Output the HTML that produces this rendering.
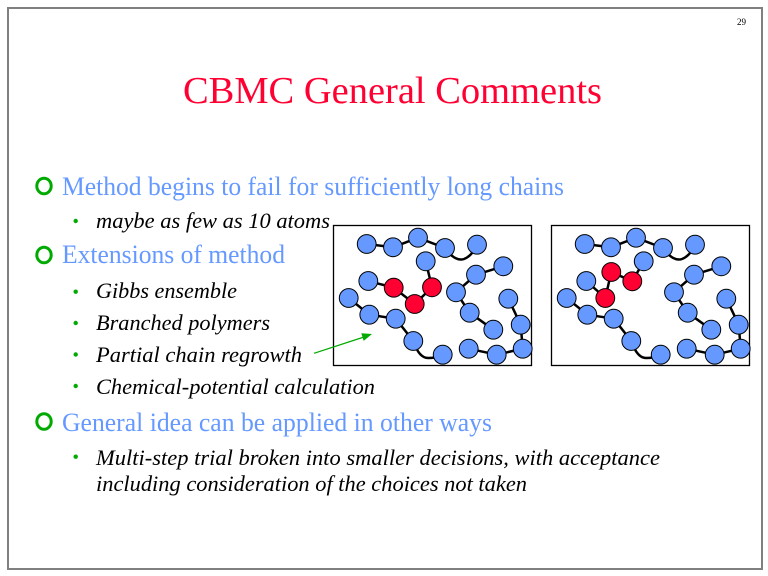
<!DOCTYPE html>
<html>
<head>
<meta charset="utf-8">
<style>
  html, body { margin: 0; padding: 0; background: #ffffff; }
  svg { display: block; }
</style>
</head>
<body>
<svg width="768" height="576" viewBox="0 0 768 576" xmlns="http://www.w3.org/2000/svg">
  <rect x="0" y="0" width="768" height="576" fill="#ffffff"/>
  <!-- outer frame -->
  <rect x="8" y="8" width="754" height="561" fill="none" stroke="#808080" stroke-width="2"/>

  <!-- page number -->
  <text x="737" y="25" font-family="Liberation Serif, serif" font-size="9" fill="#000">29</text>

  <!-- title -->
  <text x="183" y="103" font-family="Liberation Serif, serif" font-size="38.5" fill="#FF0033" textLength="419" lengthAdjust="spacingAndGlyphs">CBMC General Comments</text>

  <!-- level 1 bullets (rings) -->
  <g fill="none" stroke="#00AA00" stroke-width="3">
    <ellipse cx="44" cy="186" rx="7.2" ry="7.8"/>
    <ellipse cx="44" cy="255" rx="7.2" ry="7.8"/>
    <ellipse cx="44" cy="421.5" rx="7.2" ry="7.8"/>
  </g>

  <!-- level 2 bullets (dots) -->
  <g fill="#00AA00">
    <circle cx="75.7" cy="221" r="2.2"/>
    <circle cx="75.7" cy="291.7" r="2.2"/>
    <circle cx="75.7" cy="323" r="2.2"/>
    <circle cx="75.7" cy="354.5" r="2.2"/>
    <circle cx="75.7" cy="386" r="2.2"/>
    <circle cx="75.7" cy="456.7" r="2.2"/>
  </g>

  <!-- level 1 text -->
  <g font-family="Liberation Serif, serif" font-size="26" fill="#6699FF">
    <text x="62" y="195" textLength="502" lengthAdjust="spacingAndGlyphs">Method begins to fail for sufficiently long chains</text>
    <text x="62" y="263" textLength="223" lengthAdjust="spacingAndGlyphs">Extensions of method</text>
    <text x="62" y="431" textLength="430" lengthAdjust="spacingAndGlyphs">General idea can be applied in other ways</text>
  </g>

  <!-- level 2 text -->
  <g font-family="Liberation Serif, serif" font-size="22" font-style="italic" fill="#000000">
    <text x="96" y="228" textLength="234" lengthAdjust="spacingAndGlyphs">maybe as few as 10 atoms</text>
    <text x="96" y="298" textLength="141" lengthAdjust="spacingAndGlyphs">Gibbs ensemble</text>
    <text x="96" y="330" textLength="174" lengthAdjust="spacingAndGlyphs">Branched polymers</text>
    <text x="96" y="362" textLength="206" lengthAdjust="spacingAndGlyphs">Partial chain regrowth</text>
    <text x="96" y="394" textLength="279" lengthAdjust="spacingAndGlyphs">Chemical-potential calculation</text>
    <text x="96" y="465" textLength="564" lengthAdjust="spacingAndGlyphs">Multi-step trial broken into smaller decisions, with acceptance</text>
    <text x="96" y="491" textLength="431" lengthAdjust="spacingAndGlyphs">including consideration of the choices not taken</text>
  </g>

  <!-- diagram boxes -->
  <rect x="333.5" y="225.5" width="198" height="140" fill="#ffffff" stroke="#000" stroke-width="1.3"/>
  <rect x="551.5" y="225.5" width="198" height="140" fill="#ffffff" stroke="#000" stroke-width="1.3"/>

  <!-- diagram 1 -->
  <g>
    <g fill="none" stroke="#000" stroke-width="2.5" stroke-linecap="round">
      <line x1="366.7" y1="244" x2="393" y2="247.3"/>
      <line x1="393" y1="247.3" x2="418" y2="237.7"/>
      <line x1="418" y1="237.7" x2="445" y2="248"/>
      <path d="M445 248 Q455 262 464 259 Q472 256 477 244.7"/>
      <line x1="503.3" y1="266.3" x2="476" y2="274.7"/>
      <line x1="476" y1="274.7" x2="456" y2="292.3"/>
      <line x1="348.7" y1="298" x2="369.3" y2="314.7"/>
      <line x1="369.3" y1="314.7" x2="395.7" y2="318.7"/>
      <line x1="395.7" y1="318.7" x2="413.3" y2="341"/>
      <path d="M413.3 341 Q419 358 428 358 Q436 358 442.7 354.7"/>
      <line x1="456" y1="292.3" x2="469.7" y2="312.7"/>
      <line x1="469.7" y1="312.7" x2="493.3" y2="329.7"/>
      <line x1="508.3" y1="298.7" x2="520.7" y2="324.7"/>
      <line x1="520.7" y1="324.7" x2="522.7" y2="348.7"/>
      <line x1="522.7" y1="348.7" x2="496.7" y2="354.7"/>
      <line x1="468.7" y1="348.7" x2="496.7" y2="354.7"/>
      <line x1="425.7" y1="261.3" x2="432" y2="287.3"/>
      <line x1="368.3" y1="281" x2="393.7" y2="287.7"/>
      <line x1="393.7" y1="287.7" x2="414.7" y2="304"/>
      <line x1="414.7" y1="304" x2="432" y2="287.3"/>
    </g>
    <g fill="#6699FF" stroke="#000" stroke-width="1">
      <circle cx="366.7" cy="244" r="9.4"/>
      <circle cx="393" cy="247.3" r="9.4"/>
      <circle cx="418" cy="237.7" r="9.4"/>
      <circle cx="445" cy="248" r="9.4"/>
      <circle cx="477" cy="244.7" r="9.4"/>
      <circle cx="425.7" cy="261.3" r="9.4"/>
      <circle cx="503.3" cy="266.3" r="9.4"/>
      <circle cx="476" cy="274.7" r="9.4"/>
      <circle cx="368.3" cy="281" r="9.4"/>
      <circle cx="456" cy="292.3" r="9.4"/>
      <circle cx="348.7" cy="298" r="9.4"/>
      <circle cx="508.3" cy="298.7" r="9.4"/>
      <circle cx="369.3" cy="314.7" r="9.4"/>
      <circle cx="395.7" cy="318.7" r="9.4"/>
      <circle cx="469.7" cy="312.7" r="9.4"/>
      <circle cx="520.7" cy="324.7" r="9.4"/>
      <circle cx="493.3" cy="329.7" r="9.4"/>
      <circle cx="413.3" cy="341" r="9.4"/>
      <circle cx="468.7" cy="348.7" r="9.4"/>
      <circle cx="522.7" cy="348.7" r="9.4"/>
      <circle cx="442.7" cy="354.7" r="9.4"/>
      <circle cx="496.7" cy="354.7" r="9.4"/>
    </g>
    <g fill="#FF0033" stroke="#000" stroke-width="1">
      <circle cx="393.7" cy="287.7" r="9.4"/>
      <circle cx="432" cy="287.3" r="9.4"/>
      <circle cx="414.7" cy="304" r="9.4"/>
    </g>
  </g>

  <!-- diagram 2 -->
  <g transform="translate(218,0)">
    <g fill="none" stroke="#000" stroke-width="2.5" stroke-linecap="round">
      <line x1="366.7" y1="244" x2="393" y2="247.3"/>
      <line x1="393" y1="247.3" x2="418" y2="237.7"/>
      <line x1="418" y1="237.7" x2="445" y2="248"/>
      <path d="M445 248 Q455 262 464 259 Q472 256 477 244.7"/>
      <line x1="503.3" y1="266.3" x2="476" y2="274.7"/>
      <line x1="476" y1="274.7" x2="456" y2="292.3"/>
      <line x1="348.7" y1="298" x2="369.3" y2="314.7"/>
      <line x1="369.3" y1="314.7" x2="395.7" y2="318.7"/>
      <line x1="395.7" y1="318.7" x2="413.3" y2="341"/>
      <path d="M413.3 341 Q419 358 428 358 Q436 358 442.7 354.7"/>
      <line x1="456" y1="292.3" x2="469.7" y2="312.7"/>
      <line x1="469.7" y1="312.7" x2="493.3" y2="329.7"/>
      <line x1="508.3" y1="298.7" x2="520.7" y2="324.7"/>
      <line x1="520.7" y1="324.7" x2="522.7" y2="348.7"/>
      <line x1="522.7" y1="348.7" x2="496.7" y2="354.7"/>
      <line x1="468.7" y1="348.7" x2="496.7" y2="354.7"/>
      <line x1="425.7" y1="261.3" x2="414.3" y2="281.3"/>
      <line x1="393.3" y1="272" x2="414.3" y2="281.3"/>
      <line x1="393.3" y1="272" x2="387.3" y2="298"/>
      <line x1="368.3" y1="281" x2="387.3" y2="298"/>
    </g>
    <g fill="#6699FF" stroke="#000" stroke-width="1">
      <circle cx="366.7" cy="244" r="9.4"/>
      <circle cx="393" cy="247.3" r="9.4"/>
      <circle cx="418" cy="237.7" r="9.4"/>
      <circle cx="445" cy="248" r="9.4"/>
      <circle cx="477" cy="244.7" r="9.4"/>
      <circle cx="425.7" cy="261.3" r="9.4"/>
      <circle cx="503.3" cy="266.3" r="9.4"/>
      <circle cx="476" cy="274.7" r="9.4"/>
      <circle cx="368.3" cy="281" r="9.4"/>
      <circle cx="456" cy="292.3" r="9.4"/>
      <circle cx="348.7" cy="298" r="9.4"/>
      <circle cx="508.3" cy="298.7" r="9.4"/>
      <circle cx="369.3" cy="314.7" r="9.4"/>
      <circle cx="395.7" cy="318.7" r="9.4"/>
      <circle cx="469.7" cy="312.7" r="9.4"/>
      <circle cx="520.7" cy="324.7" r="9.4"/>
      <circle cx="493.3" cy="329.7" r="9.4"/>
      <circle cx="413.3" cy="341" r="9.4"/>
      <circle cx="468.7" cy="348.7" r="9.4"/>
      <circle cx="522.7" cy="348.7" r="9.4"/>
      <circle cx="442.7" cy="354.7" r="9.4"/>
      <circle cx="496.7" cy="354.7" r="9.4"/>
    </g>
    <g fill="#FF0033" stroke="#000" stroke-width="1">
      <circle cx="393.3" cy="272" r="9.4"/>
      <circle cx="414.3" cy="281.3" r="9.4"/>
      <circle cx="387.3" cy="298" r="9.4"/>
    </g>
  </g>

  <!-- arrow -->
  <line x1="314" y1="353.3" x2="364" y2="337" stroke="#00AA00" stroke-width="1.2"/>
  <polygon points="372,334 363.7,340.9 361.3,333.3" fill="#00AA00"/>
</svg>
</body>
</html>
